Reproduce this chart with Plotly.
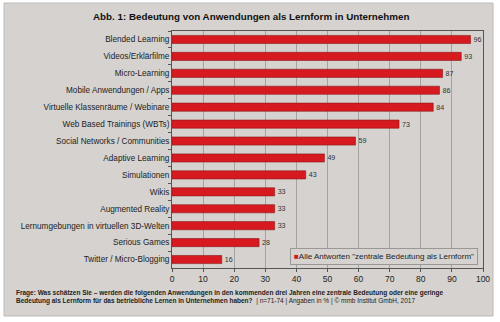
import plotly.graph_objects as go

# Anwendungen und Anteil "zentrale Bedeutung als Lernform" (in %)
anwendungen = [
    "Blended Learning",
    "Videos/Erklärfilme",
    "Micro-Learning",
    "Mobile Anwendungen / Apps",
    "Virtuelle Klassenräume / Webinare",
    "Web Based Trainings (WBTs)",
    "Social Networks / Communities",
    "Adaptive Learning",
    "Simulationen",
    "Wikis",
    "Augmented Reality",
    "Lernumgebungen in virtuellen 3D-Welten",
    "Serious Games",
    "Twitter / Micro-Blogging",
]
anteil = [96, 93, 87, 86, 84, 73, 59, 49, 43, 33, 33, 33, 28, 16]
x_ticks = [0, 10, 20, 30, 40, 50, 60, 70, 80, 90, 100]
serie = 'Alle Antworten "zentrale Bedeutung als Lernform"'

W, H = 500, 322
L, R, T, B = 172, 17, 31, 54
PW, PH = W - L - R, H - T - B


def px(x):
    return (x - L) / PW


def py(y):
    return (H - B - y) / PH


FONT = "Liberation Sans, Arial, sans-serif"
GRAU = "#d5d2cf"
ROT = "#d71920"

fig = go.Figure()
fig.add_trace(go.Bar(
    y=anwendungen,
    x=anteil,
    orientation="h",
    name=serie,
    showlegend=False,
    marker=dict(color=ROT, line=dict(color="#8a1a1a", width=0.6)),
    text=anteil,
    textposition="outside",
    cliponaxis=False,
    textfont=dict(family=FONT, size=8.8, color="#333333"),
))

# grauer Hintergrund des Diagramms
fig.add_shape(type="rect", xref="paper", yref="paper",
              x0=px(4), x1=px(493), y0=py(316), y1=py(3),
              fillcolor=GRAU, line=dict(color="#bdbab7", width=1), layer="below")

fig.add_annotation(xref="paper", yref="paper", x=px(251), y=py(16),
                   xanchor="center", yanchor="middle", showarrow=False,
                   text="<b>Abb. 1: Bedeutung von Anwendungen als Lernform in Unternehmen</b>",
                   font=dict(family=FONT, size=9.8, color="#111111"))

# Legende als Kasten mit Farbquadrat
fig.add_annotation(xref="paper", yref="paper", x=px(290), y=py(248),
                   xanchor="left", yanchor="top", showarrow=False,
                   text=f'<span style="color:{ROT}">■</span>{serie}',
                   bgcolor=GRAU, bordercolor="#9a9794", borderwidth=1, borderpad=3,
                   font=dict(family=FONT, size=8.0, color="#222222"))

fig.add_annotation(xref="paper", yref="paper", x=px(14), y=py(297),
                   xanchor="left", yanchor="middle", showarrow=False, align="left",
                   text=("<b>Frage: Was schätzen Sie – werden die folgenden Anwendungen in den kommenden drei Jahren eine zentrale Bedeutung oder eine geringe</b><br>"
                         "<b>Bedeutung als Lernform für das betriebliche Lernen in Unternehmen haben?</b>  | n=71-74 | Angaben in % | © mmb Institut GmbH, 2017"),
                   font=dict(family=FONT, size=6.5, color="#222222"))

fig.update_layout(
    width=W, height=H,
    margin=dict(l=L, r=R, t=T, b=B, autoexpand=False),
    paper_bgcolor="white",
    plot_bgcolor=GRAU,
    bargap=0.52,
    font=dict(family=FONT, size=8.5, color="#222222"),
    showlegend=False,
    xaxis=dict(range=[0, 100], tickvals=x_ticks, showgrid=True,
               gridcolor="#a5a3a1", gridwidth=1, zeroline=False,
               showline=True, linecolor="#555555", linewidth=1, mirror=True,
               ticks="outside", ticklen=3, tickcolor="#555555",
               tickfont=dict(family=FONT, size=8.5, color="#222222")),
    yaxis=dict(autorange="reversed", showline=True, linecolor="#555555",
               linewidth=1, mirror=True, ticks="outside", ticklen=3,
               tickcolor="#555555", tickson="boundaries", showgrid=False,
               tickfont=dict(family=FONT, size=8.2, color="#222222")),
)

fig.write_html("out.html")
